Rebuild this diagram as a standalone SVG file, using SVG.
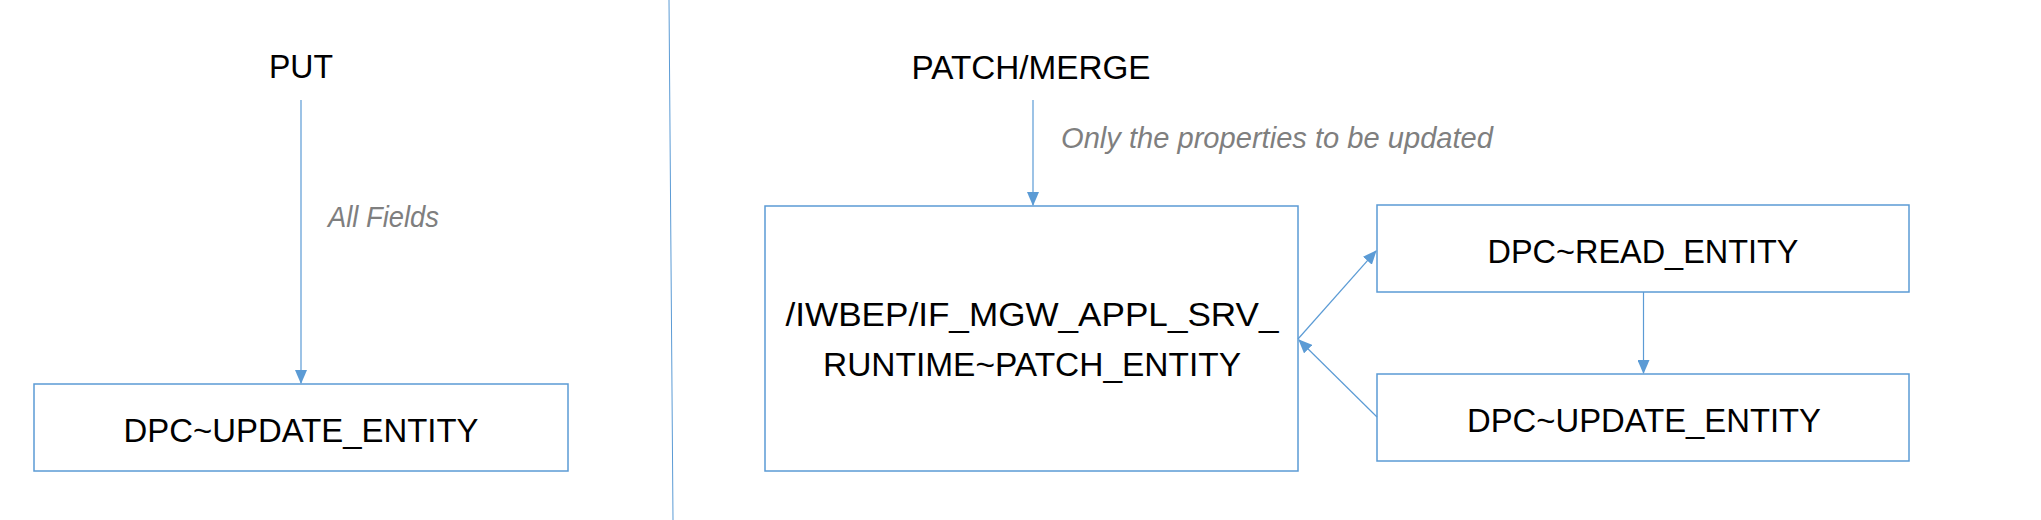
<svg xmlns="http://www.w3.org/2000/svg" width="2041" height="520" viewBox="0 0 2041 520">
<style>
.box{fill:#ffffff;stroke:#5b9bd5;stroke-width:1.5}
.t{font-family:"Liberation Sans",Arial,sans-serif;font-size:34px;fill:#000000;text-anchor:middle}
.lbl{font-family:"Liberation Sans",Arial,sans-serif;font-size:30px;font-style:italic;fill:#7f7f7f}
.c{stroke:#5b9bd5;stroke-width:1.2;fill:none}
</style>
<defs>
<marker id="ah" markerUnits="userSpaceOnUse" markerWidth="14" markerHeight="12" refX="13" refY="6" orient="auto">
<path d="M0,0 L14,6 L0,12 Z" fill="#5b9bd5"/>
</marker>
</defs>
<rect width="2041" height="520" fill="#ffffff"/>
<line x1="669" y1="0" x2="673" y2="520" stroke="#5b9bd5" stroke-width="1"/>
<g id="put-label"><text class="t" x="301" y="78" textLength="64" lengthAdjust="spacingAndGlyphs">PUT</text></g>
<g id="patch-label"><text class="t" x="1031" y="79" textLength="239" lengthAdjust="spacingAndGlyphs">PATCH/MERGE</text></g>
<g id="update-left">
<rect class="box" x="34" y="384" width="534" height="87"/>
<text class="t" x="301" y="442" textLength="355" lengthAdjust="spacingAndGlyphs">DPC~UPDATE_ENTITY</text>
</g>
<g id="runtime">
<rect class="box" x="765" y="206" width="533" height="265"/>
<text class="t" x="1032" y="326" textLength="493" lengthAdjust="spacingAndGlyphs">/IWBEP/IF_MGW_APPL_SRV_</text>
<text class="t" x="1032" y="376" textLength="418" lengthAdjust="spacingAndGlyphs">RUNTIME~PATCH_ENTITY</text>
</g>
<g id="read">
<rect class="box" x="1377" y="205" width="532" height="87"/>
<text class="t" x="1643" y="263" textLength="311" lengthAdjust="spacingAndGlyphs">DPC~READ_ENTITY</text>
</g>
<g id="update-right">
<rect class="box" x="1377" y="374" width="532" height="87"/>
<text class="t" x="1644" y="432" textLength="354" lengthAdjust="spacingAndGlyphs">DPC~UPDATE_ENTITY</text>
</g>
<g id="connectors">
<line class="c" x1="301" y1="100" x2="301" y2="383" marker-end="url(#ah)"/>
<text class="lbl" x="328" y="227" textLength="111" lengthAdjust="spacingAndGlyphs">All Fields</text>
<line class="c" x1="1033" y1="100" x2="1033" y2="205" marker-end="url(#ah)"/>
<text class="lbl" x="1061" y="148" textLength="432" lengthAdjust="spacingAndGlyphs">Only the properties to be updated</text>
<line class="c" x1="1643.5" y1="292" x2="1643.5" y2="373" marker-end="url(#ah)"/>
<line class="c" x1="1298" y1="339" x2="1376" y2="251" marker-end="url(#ah)"/>
<line class="c" x1="1377" y1="417" x2="1299" y2="340" marker-end="url(#ah)"/>
</g>
</svg>
